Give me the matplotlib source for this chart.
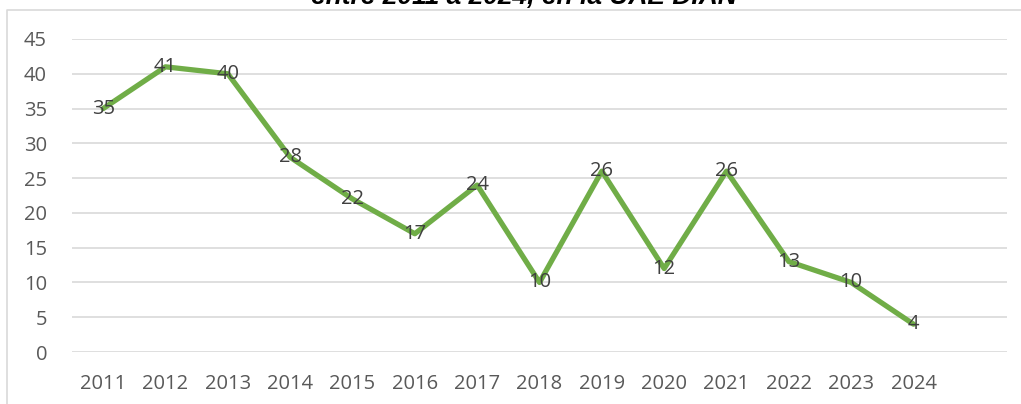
import matplotlib.pyplot as plt
from matplotlib.lines import Line2D
import numpy as np

years = ["2011", "2012", "2013", "2014", "2015", "2016", "2017",
         "2018", "2019", "2020", "2021", "2022", "2023", "2024"]
counts = [35, 41, 40, 28, 22, 17, 24, 10, 26, 12, 26, 13, 10, 4]
y_ticks = [0, 5, 10, 15, 20, 25, 30, 35, 40, 45]

plt.rcParams['font.family'] = ['Open Sans', 'DejaVu Sans']

W, H = 1021, 404
fig = plt.figure(figsize=(W / 100, H / 100), dpi=100, facecolor="white")
ax = fig.add_axes([72 / W, 1 - 352 / H, (1007 - 72) / W, (352 - 39) / H])

x = np.arange(len(years))
ax.plot(x, counts, color="#70AD47", linewidth=3.8, solid_joinstyle="round",
        solid_capstyle="round", zorder=3)

# data labels centred on the points
for xi, v in zip(x, counts):
    ax.text(xi, v, str(v), ha="center", va="center", fontsize=14.5,
            color="#404040", zorder=4)

ax.set_xlim(-0.5, len(years) + 0.5)
ax.set_ylim(0, 45)
ax.set_yticks(y_ticks)
ax.set_xticks(x)
ax.set_xticklabels(years)
ax.tick_params(axis="both", length=0, labelsize=14.5, labelcolor="#595959")
ax.tick_params(axis="x", pad=16)
ax.tick_params(axis="y", pad=18)

ax.grid(axis="y", color="#D9D9D9", linewidth=1.2)
ax.set_axisbelow(True)
for s in ax.spines.values():
    s.set_visible(False)

# chart border (top and left visible)
fig.add_artist(Line2D([7 / W, 7 / W, 1.0], [0.0, 1 - 9.5 / H, 1 - 9.5 / H],
                      transform=fig.transFigure, color="#D9D9D9", linewidth=1.2))

# title, cut off at the top as in the source
fig.text(524 / W, 1 - 4.5 / H, "entre 2011 a 2024, en la UAE DIAN",
         ha="center", va="baseline", fontsize=19, fontweight="bold",
         fontstyle="italic", family="Liberation Sans", color="black")

fig.savefig("out.png", dpi=100, facecolor="white")
